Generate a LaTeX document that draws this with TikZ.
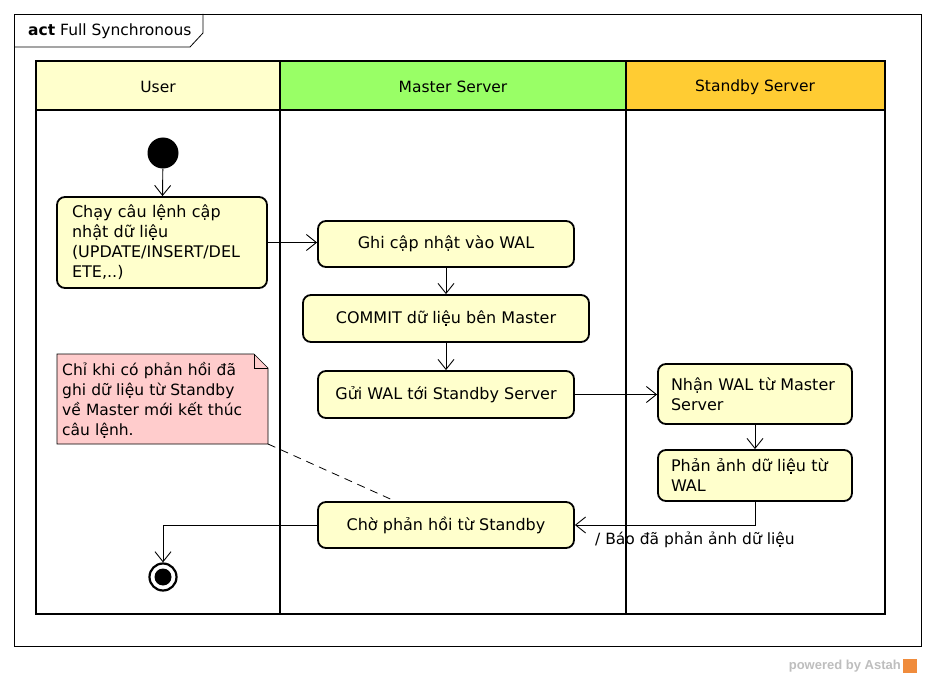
\documentclass[tikz,border=0pt]{standalone}
\usepackage{fontspec}
\setmainfont{DejaVu Sans}
\newfontfamily\wmfont{Liberation Sans}
\usetikzlibrary{arrows.meta}
\definecolor{userc}{RGB}{255,255,204}
\definecolor{masterc}{RGB}{153,255,102}
\definecolor{standbyc}{RGB}{255,204,51}
\definecolor{actc}{RGB}{255,255,204}
\definecolor{notec}{RGB}{255,204,204}
\definecolor{wmgray}{RGB}{190,190,190}
\definecolor{astahor}{RGB}{240,140,60}
\begin{document}
\begin{tikzpicture}[x=1pt,y=-1pt,
  font=\fontsize{15.5}{20}\selectfont,
  actbox/.style={draw, line width=1.8pt, fill=actc, rounded corners=8pt, inner sep=0pt, align=left, font=\fontsize{16}{20}\selectfont},
  flow/.style={line width=0.9pt, -{Straight Barb[length=10pt,width=16pt,line width=0.9pt]}},
  lane/.style={line width=2.5pt},
  hdr/.style={inner sep=0pt, anchor=center}
]
\useasboundingbox (0,0) rectangle (935,679);
\fill[white] (0,0) rectangle (935,679);

% frame
\draw[line width=0.8pt] (14,14) rectangle (921,646);
\draw[line width=0.8pt] (14,47) -- (190,47) -- (203,33) -- (203,14);
\node[anchor=west, inner sep=0pt] (title) at (28,31) {\textbf{act} Full Synchronous};

% lanes
\fill[userc] (36,61) rectangle (280,110);
\fill[masterc] (280,61) rectangle (626,110);
\fill[standbyc] (626,61) rectangle (885,110);
\draw[lane] (36,61) rectangle (885,614);
\draw[lane] (36,110) -- (885,110);
\draw[lane] (280,61) -- (280,614);
\draw[lane] (626,61) -- (626,614);
\node[hdr] (huser) at (158,87) {User};
\node[hdr] (hmaster) at (453,87) {Master Server};
\node[hdr] (hstandby) at (755,87) {Standby Server};

% start / end
\node[circle, fill=black, minimum size=31pt, inner sep=0pt] (start) at (163,153) {};
\node[circle, draw=black, fill=white, line width=2.2pt, minimum size=27pt, inner sep=0pt] (end) at (163,577) {};
\node[circle, fill=black, minimum size=17pt, inner sep=0pt] (endin) at (163,577) {};

% actions
\node[actbox, minimum width=210pt, minimum height=91pt, text width=180pt] (a1) at (162,242.5)
  {Chạy câu lệnh cập\\nhật dữ liệu\\(UPDATE/INSERT/DEL\\ETE,..)};
\node[actbox, align=center, minimum width=256pt, minimum height=46pt] (ghi) at (446,244) {Ghi cập nhật vào WAL};
\node[actbox, align=center, minimum width=286pt, minimum height=47pt] (commit) at (446,318.5) {COMMIT dữ liệu bên Master};
\node[actbox, align=center, minimum width=256pt, minimum height=47pt] (gui) at (446,394.5) {Gửi WAL tới Standby Server};
\node[actbox, minimum width=194pt, minimum height=60pt, text width=168pt] (nhan) at (755,394) {Nhận WAL từ Master\\Server};
\node[actbox, minimum width=194pt, minimum height=51pt, text width=168pt] (phan) at (755,475.5) {Phản ảnh dữ liệu từ\\WAL};
\node[actbox, align=center, minimum width=256pt, minimum height=46pt] (cho) at (446,525) {Chờ phản hồi từ Standby};

% note
\draw[line width=0.7pt, fill=notec] (57,354) -- (254,354) -- (268,368) -- (268,444) -- (57,444) -- cycle;
\draw[line width=0.7pt] (254,354) -- (254,368) -- (268,368);
\node[anchor=west, inner sep=0pt, align=left, text width=205pt] (note) at (62,400)
  {Chỉ khi có phản hồi đã\\ghi dữ liệu từ Standby\\về Master mới kết thúc\\câu lệnh.};
\coordinate (notecorner) at (268,444);
\draw[line width=0.8pt, dash pattern=on 8pt off 6pt] (notecorner) -- ([xshift=-51pt]cho.north);

% flows
\draw[flow] (start) -- (a1);
\draw[flow] (a1.east) -- (a1.east -| ghi.west);
\draw[flow] (ghi) -- (commit);
\draw[flow] (commit) -- (gui);
\draw[flow] (gui.east) -- (gui.east -| nhan.west);
\draw[flow] (nhan) -- (phan);
\draw[flow] (phan.south) |- (cho.east);
\node[anchor=west, inner sep=0pt] (lbl) at (595,540) {/ Báo đã phản ảnh dữ liệu};
\draw[flow] (cho.west) -| (end.north);

% watermark
\node[anchor=east, inner sep=0pt, text=wmgray, font=\wmfont\bfseries\fontsize{13}{15}\selectfont] (wm) at (901,666) {powered by Astah};
\fill[astahor] (903,659) rectangle (917,673);
\end{tikzpicture}
\end{document}
